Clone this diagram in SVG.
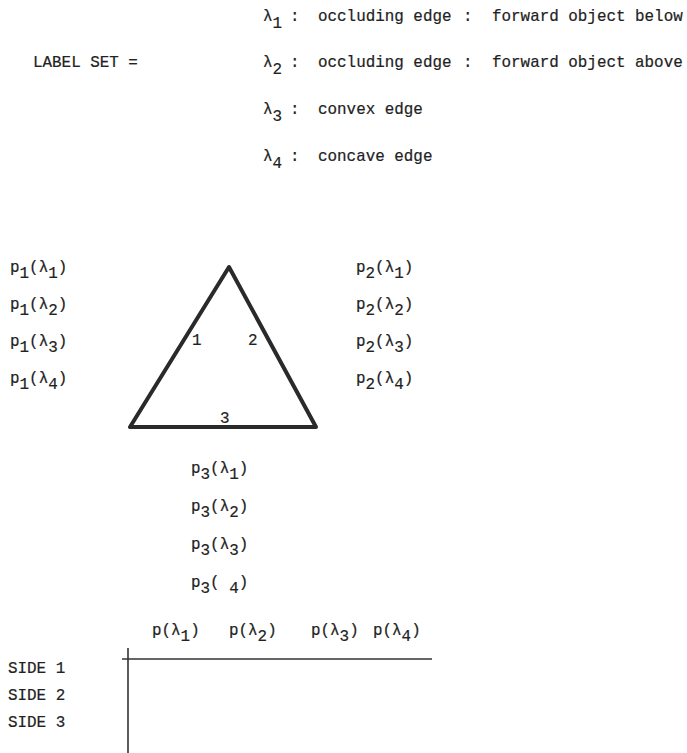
<svg xmlns="http://www.w3.org/2000/svg" width="687" height="753" viewBox="0 0 687 753">
<style>
text { font-family: "Liberation Mono", "DejaVu Sans Mono", monospace; font-size: 15.9px; fill: #222; stroke: #222; stroke-width: 0.2; }
.line { stroke: #333; stroke-width: 1.6; fill: none; }
.tri { stroke: #2a2a2a; stroke-width: 4; fill: none; stroke-linejoin: round; }
</style>
<rect width="687" height="753" fill="#ffffff"/>

<g id="label-set">
  <text x="33" y="67">LABEL SET =</text>
  <text x="263" y="21">λ<tspan dy="7">1</tspan></text>
  <text x="290" y="21">:</text>
  <text x="318" y="21">occluding edge</text>
  <text x="463" y="21">:</text>
  <text x="492" y="21">forward object below</text>

  <text x="263" y="67">λ<tspan dy="7">2</tspan></text>
  <text x="290" y="67">:</text>
  <text x="318" y="67">occluding edge</text>
  <text x="463" y="67">:</text>
  <text x="492" y="67">forward object above</text>

  <text x="263" y="114">λ<tspan dy="7">3</tspan></text>
  <text x="290" y="114">:</text>
  <text x="318" y="114">convex edge</text>

  <text x="263" y="161">λ<tspan dy="7">4</tspan></text>
  <text x="290" y="161">:</text>
  <text x="318" y="161">concave edge</text>
</g>

<g id="triangle">
  <polygon class="tri" points="229,267 130,427 316,427"/>
  <text x="192" y="345">1</text>
  <text x="248" y="345">2</text>
  <text x="220" y="423">3</text>
</g>

<g id="p1-labels">
  <text x="10" y="272">p<tspan dy="6">1</tspan><tspan dy="-6">(λ</tspan><tspan dy="6">1</tspan><tspan dy="-6">)</tspan></text>
  <text x="10" y="309">p<tspan dy="6">1</tspan><tspan dy="-6">(λ</tspan><tspan dy="6">2</tspan><tspan dy="-6">)</tspan></text>
  <text x="10" y="346">p<tspan dy="6">1</tspan><tspan dy="-6">(λ</tspan><tspan dy="6">3</tspan><tspan dy="-6">)</tspan></text>
  <text x="10" y="383">p<tspan dy="6">1</tspan><tspan dy="-6">(λ</tspan><tspan dy="6">4</tspan><tspan dy="-6">)</tspan></text>
</g>

<g id="p2-labels">
  <text x="356" y="272">p<tspan dy="6">2</tspan><tspan dy="-6">(λ</tspan><tspan dy="6">1</tspan><tspan dy="-6">)</tspan></text>
  <text x="356" y="309">p<tspan dy="6">2</tspan><tspan dy="-6">(λ</tspan><tspan dy="6">2</tspan><tspan dy="-6">)</tspan></text>
  <text x="356" y="346">p<tspan dy="6">2</tspan><tspan dy="-6">(λ</tspan><tspan dy="6">3</tspan><tspan dy="-6">)</tspan></text>
  <text x="356" y="383">p<tspan dy="6">2</tspan><tspan dy="-6">(λ</tspan><tspan dy="6">4</tspan><tspan dy="-6">)</tspan></text>
</g>

<g id="p3-labels">
  <text x="191" y="473">p<tspan dy="6">3</tspan><tspan dy="-6">(λ</tspan><tspan dy="6">1</tspan><tspan dy="-6">)</tspan></text>
  <text x="191" y="511">p<tspan dy="6">3</tspan><tspan dy="-6">(λ</tspan><tspan dy="6">2</tspan><tspan dy="-6">)</tspan></text>
  <text x="191" y="549">p<tspan dy="6">3</tspan><tspan dy="-6">(λ</tspan><tspan dy="6">3</tspan><tspan dy="-6">)</tspan></text>
  <text x="191" y="587" xml:space="preserve">p<tspan dy="6">3</tspan><tspan dy="-6">( </tspan><tspan dy="6">4</tspan><tspan dy="-6">)</tspan></text>
</g>

<g id="table">
  <text x="152" y="635">p(λ<tspan dy="6">1</tspan><tspan dy="-6">)</tspan></text>
  <text x="229" y="635">p(λ<tspan dy="6">2</tspan><tspan dy="-6">)</tspan></text>
  <text x="311" y="635">p(λ<tspan dy="6">3</tspan><tspan dy="-6">)</tspan></text>
  <text x="373" y="635">p(λ<tspan dy="6">4</tspan><tspan dy="-6">)</tspan></text>
  <text x="8" y="673">SIDE 1</text>
  <text x="8" y="700">SIDE 2</text>
  <text x="8" y="727">SIDE 3</text>
</g>

<g id="connectors">
  <line class="line" x1="122" y1="659" x2="432" y2="659"/>
  <line class="line" x1="128" y1="648" x2="128" y2="753"/>
</g>
</svg>
